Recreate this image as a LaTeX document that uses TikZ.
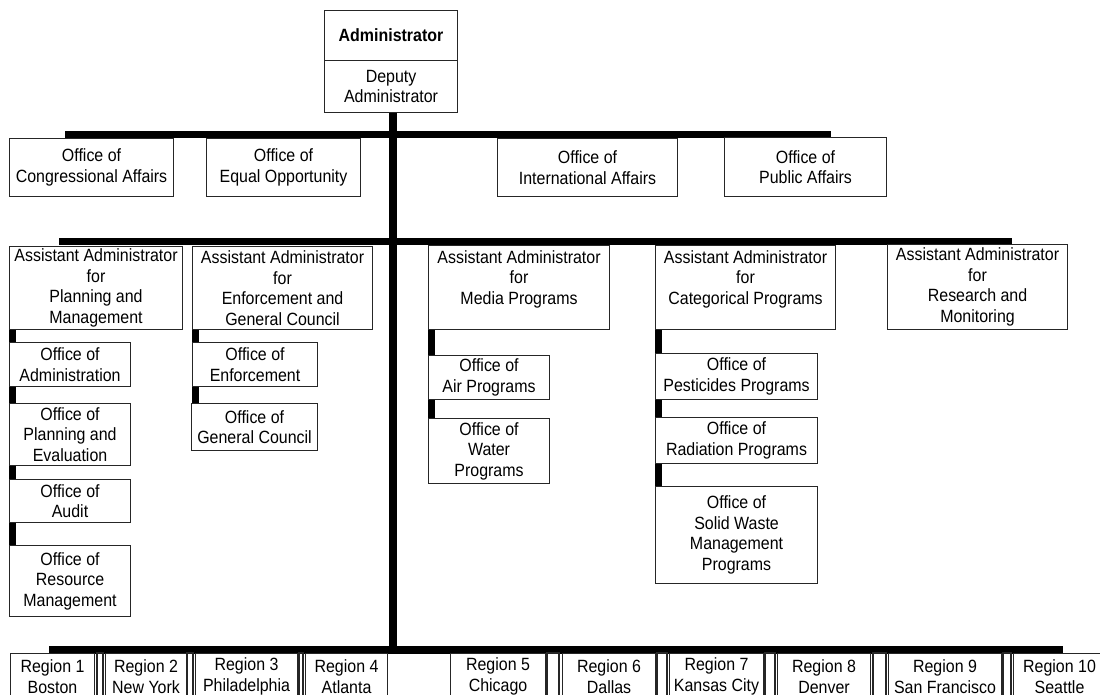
\documentclass[tikz,border=0pt]{standalone}
\usepackage{fontspec}
\setmainfont{Liberation Sans}[FakeStretch=0.9]
\pgfdeclarelayer{back}
\pgfdeclarelayer{bg}
\pgfsetlayers{back,bg,main}
\begin{document}
\begin{tikzpicture}[x=0.75pt,y=-0.75pt,
  box/.style 2 args={draw=black!85, line width=0.8pt, fill=white, anchor=north west,
    align=center, inner sep=1pt, minimum width=#1*0.75pt, minimum height=#2*0.75pt,
    font=\fontsize{13.3}{15.4}\selectfont},
  bar/.style={line width=5.25pt, black, line cap=butt},
  trunk/.style={line width=6pt, black, line cap=butt},
  gapbox/.style={draw=black!85, line width=0.8pt, fill=white}]
\useasboundingbox (0,0) rectangle (1100,695);
\begin{pgfonlayer}{back}
\fill[white] (0,0) rectangle (1100,695);
\end{pgfonlayer}
\clip (0,0) rectangle (1100,695);

% top
\node[box={133}{50}, font=\fontsize{13.3}{15.4}\selectfont\bfseries] (adm) at (324,10) {Administrator};
\node[box={133}{52}] (dep) at (324,60) {Deputy\\Administrator};

% row 1
\node[box={164}{58}] (cong) at (9,138) {Office of\\Congressional Affairs};
\node[box={154}{58}] (eqop) at (206,138) {Office of\\Equal Opportunity};
\node[box={180}{58}] (intl) at (497,138) {Office of\\International Affairs};
\node[box={162}{59}] (pub) at (724,137) {Office of\\Public Affairs};

% row 2
\node[box={173}{83}] (aapm) at (9,246) {Assistant Administrator\\for\\Planning and\\Management};
\node[box={180}{83}] (aaeg) at (192,246) {Assistant Administrator\\for\\Enforcement and\\General Council};
\node[box={181}{84}] (aamp) at (428,245) {Assistant Administrator\\for\\Media Programs\\\mbox{}};
\node[box={180}{84}] (aacp) at (655,245) {Assistant Administrator\\for\\Categorical Programs\\\mbox{}};
\node[box={180}{85}] (aarm) at (887,244) {Assistant Administrator\\for\\Research and\\Monitoring};

% sub offices
\node[box={121}{44}] (oadm) at (9,342) {Office of\\Administration};
\node[box={121}{62}] (ope) at (9,403) {Office of\\Planning and\\Evaluation};
\node[box={121}{43}] (oaud) at (9,479) {Office of\\Audit};
\node[box={121}{71}] (orm) at (9,545) {Office of\\Resource\\Management};
\node[box={125}{44}] (oenf) at (192,342) {Office of\\Enforcement};
\node[box={126}{47}] (ogc) at (191,403) {Office of\\General Council};
\node[box={121}{44}] (oair) at (428,355) {Office of\\Air Programs};
\node[box={121}{65}] (owat) at (428,418) {Office of\\Water\\Programs};
\node[box={162}{46}] (opest) at (655,353) {Office of\\Pesticides Programs};
\node[box={162}{46}] (orad) at (655,417) {Office of\\Radiation Programs};
\node[box={162}{97}] (osw) at (655,486) {Office of\\Solid Waste\\Management\\Programs};

% regions
\node[box={84}{46}] (r1) at (10,653) {Region 1\\Boston};
\node[box={81}{46}] (r2) at (105,653) {Region 2\\New York};
\node[box={102}{46}] (r3) at (195,653) {Region 3\\Philadelphia};
\node[box={82}{46}] (r4) at (305,653) {Region 4\\Atlanta};
\node[box={95}{46}] (r5) at (450,653) {Region 5\\Chicago};
\node[box={93}{46}] (r6) at (562,653) {Region 6\\Dallas};
\node[box={94}{46}] (r7) at (669,653) {Region 7\\Kansas City};
\node[box={93}{46}] (r8) at (777,653) {Region 8\\Denver};
\node[box={113}{46}] (r9) at (888,653) {Region 9\\San Francisco};
\node[box={92}{46}] (r10) at (1013,653) {Region 10\\Seattle};

% narrow gaps between regions
\draw[gapbox] (97,653) rectangle (103,705);
\draw[gapbox] (187,653) rectangle (193,705);
\draw[gapbox] (299,653) rectangle (303,705);
\draw[gapbox] (547,653) rectangle (559,705);
\draw[gapbox] (657,653) rectangle (667,705);
\draw[gapbox] (765,653) rectangle (775,705);
\draw[gapbox] (873,653) rectangle (886,705);
\draw[gapbox] (1003,653) rectangle (1011,705);

% connectors
\coordinate (b1l) at (65,134.5);  \coordinate (b1r) at (831,134.5);
\coordinate (b2l) at (59,241.5);  \coordinate (b2r) at (1012,241.5);
\coordinate (b3l) at (49,649.5);  \coordinate (b3r) at (1063,649.5);
\coordinate (tkt) at (393,112);   \coordinate (tkb) at (393,653);
\begin{pgfonlayer}{bg}
\draw[trunk] (tkt) -- (tkb);
\draw[bar] (b1l) -- (b1r);
\draw[bar] (b2l) -- (b2r);
\draw[trunk] (b3l) -- (b3r);
\draw[bar] ([xshift=2.625pt]aapm.south west) -- ([xshift=2.625pt]orm.north west);
\draw[bar] ([xshift=2.625pt]aaeg.south west) -- ([xshift=3.375pt]ogc.north west);
\draw[bar] ([xshift=2.625pt]aamp.south west) -- ([xshift=2.625pt]owat.north west);
\draw[bar] ([xshift=2.625pt]aacp.south west) -- ([xshift=2.625pt]osw.north west);
\end{pgfonlayer}
\end{tikzpicture}
\end{document}
